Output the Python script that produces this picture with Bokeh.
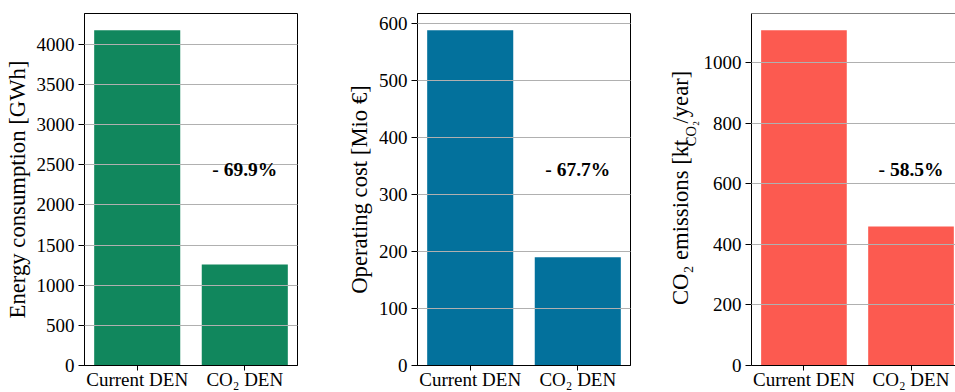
from math import pi
from bokeh.plotting import figure
from bokeh.models import Range1d, FixedTicker, Label, Span, ColumnDataSource
from bokeh.core.properties import value
from bokeh.layouts import row
from bokeh.embed import file_html
from bokeh.resources import INLINE

# ---------------- data ----------------
categories = ["Current DEN", "CO\u2082 DEN"]
energy_gwh = [4175, 1257]
cost_mio_eur = [588, 190]
emissions_kt = [1107, 459]
energy_ticks = [0, 500, 1000, 1500, 2000, 2500, 3000, 3500, 4000]
cost_ticks = [0, 100, 200, 300, 400, 500, 600]
emission_ticks = [0, 200, 400, 600, 800, 1000]
reduction_labels = ["- 69.9%", "- 67.7%", "- 58.5%"]
ylabels = ["Energy consumption [GWh]", "Operating cost [Mio \u20ac]"]
colors = ["#11875d", "#03719c", "#fc5a50"]

# ---------------- style / layout ----------------
FONT = "Liberation Serif"
H = 392
TOP = 13
BOTTOM = 27
FRAME_H = H - TOP - BOTTOM
X0, X1 = -0.49, 1.49
FRAME_W = 213
PPU_X = FRAME_W / (X1 - X0)


def make(values, ticks, color, note, width, left, right, x_end, ylabel=None, outline=True):
    top = 1.05 * max(values)
    p = figure(width=width, height=H, x_range=Range1d(X0, x_end), y_range=Range1d(0, top),
               output_backend="svg", toolbar_location=None,
               min_border_left=left, min_border_right=right,
               min_border_top=TOP, min_border_bottom=BOTTOM)
    src = ColumnDataSource(dict(x=list(range(len(categories))), top=values))
    p.vbar(x="x", top="top", width=0.8, source=src, fill_color=color, line_color=None)

    p.xgrid.visible = False
    p.ygrid.grid_line_color = "#b0b0b0"
    p.ygrid.grid_line_width = 1.2
    p.ygrid.level = "guide"
    p.ygrid.ticker = FixedTicker(ticks=ticks)
    p.outline_line_color = "black" if outline else None
    p.outline_line_width = 1
    p.background_fill_color = "white"
    p.border_fill_color = "white"

    p.xaxis.ticker = FixedTicker(ticks=list(range(len(categories))))
    p.xaxis.major_label_overrides = {i: c for i, c in enumerate(categories)}
    p.yaxis.ticker = FixedTicker(ticks=ticks)
    for ax in (p.xaxis[0], p.yaxis[0]):
        ax.axis_line_color = "black"
        ax.axis_line_width = 1
        ax.major_tick_line_color = "black"
        ax.major_tick_in = 0
        ax.minor_tick_line_color = None
        ax.major_label_text_font = FONT
        ax.major_label_text_font_size = "19px"
        ax.major_label_text_color = "black"
    p.yaxis.major_tick_out = 6
    p.yaxis.major_label_standoff = 4
    p.xaxis.major_tick_out = 5
    p.xaxis.major_label_standoff = -2
    if ylabel:
        p.yaxis.axis_label = ylabel
        p.yaxis.axis_label_text_font = FONT
        p.yaxis.axis_label_text_font_size = "22.7px"
        p.yaxis.axis_label_text_font_style = "normal"
        p.yaxis.axis_label_text_color = "black"
        p.yaxis.axis_label_standoff = 4

    p.add_layout(Label(x=1, y=0.585 * max(values), text=note, text_align="center",
                       text_baseline="middle", text_font=FONT, text_font_size="19.5px",
                       text_font_style="bold", text_color="black"))
    return p, top


p1, _ = make(energy_gwh, energy_ticks, colors[0], reduction_labels[0], 340, 84, 43, X1, ylabels[0])
p2, _ = make(cost_mio_eur, cost_ticks, colors[1], reduction_labels[1], 315, 77, 25, X1, ylabels[1])
W3, L3 = 255, 50
x_end3 = X0 + (W3 - L3) / PPU_X
p3, top3 = make(emissions_kt, emission_ticks, colors[2], reduction_labels[2], W3, L3, 0, x_end3,
                None, outline=False)
p3.add_layout(Span(location=top3, dimension="width", line_color="black", line_width=1))

# ---- composed y label for panel 3: CO2 emissions [kt_{CO2}/year] (own text strip) ----
SW = 45
strip = figure(width=SW, height=H, x_range=Range1d(0, SW), y_range=Range1d(0, H),
               output_backend="svg", toolbar_location=None, x_axis_type=None, y_axis_type=None,
               min_border_left=0, min_border_right=0, min_border_top=0, min_border_bottom=0)
strip.grid.visible = False
strip.outline_line_color = None
strip.background_fill_color = "white"
strip.border_fill_color = "white"

EM = {"C": 667, "O": 722, "\u2082": 350, " ": 250, "e": 444, "m": 778, "i": 278, "s": 389,
      "o": 500, "n": 500, "[": 333, "k": 500, "t": 278, "/": 278, "y": 500, "a": 444,
      "r": 333, "]": 333}
ASC, DESC = 0.891, 0.216
MAIN, SUB = 22.7, 14.5
BASE_X = 33
# (text, font size, baseline shift px, gap after px)
parts = [("CO\u2082 emissions [kt", MAIN, 0, 3.5), ("CO\u2082", SUB, 7, 1.5), ("/year]", MAIN, 0, 0)]


def text_w(s, size):
    return sum(EM[ch] for ch in s) * size / 1000.0


total = sum(text_w(s, sz) + g for s, sz, _, g in parts)
pos = BOTTOM + (FRAME_H - total) / 2 - 2
for s, sz, shift, gap in parts:
    w = text_w(s, sz)
    cx = BASE_X + shift - (ASC - DESC) / 2 * sz
    strip.text(x=[cx], y=[pos + w / 2], text=[s], angle=pi / 2,
               text_align="center", text_baseline="middle", text_font=value(FONT),
               text_font_size=value(f"{sz}px"), text_color="black")
    pos += w + gap

layout = row(p1, p2, strip, p3)
open("out.html", "w").write(file_html(layout, INLINE))
